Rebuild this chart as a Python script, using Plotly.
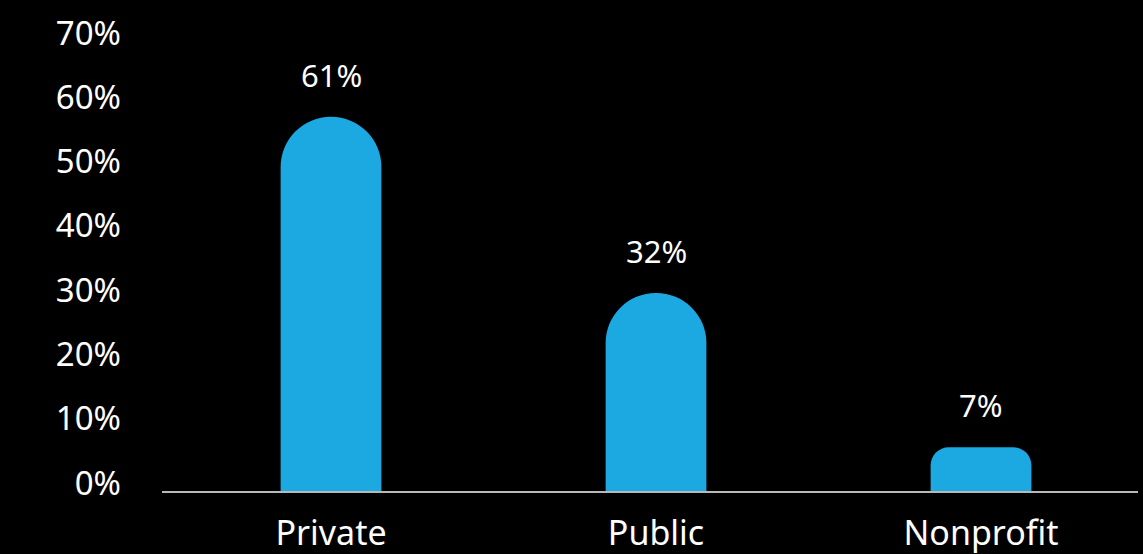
import plotly.graph_objects as go

categories = ["Private", "Public", "Nonprofit"]
bar_heights = [58.2, 30.8, 6.8]          # bar tops
value_labels = ["61%", "32%", "7%"]      # printed data labels
y_tickvals = [0, 10, 20, 30, 40, 50, 60, 70]
y_ticktext = ["0%", "10%", "20%", "30%", "40%", "50%", "60%", "70%"]

BAR_COLOR = "#1ca8e0"
FONT = "Noto Sans"
corner_radii = [50, 50, 18]

fig = go.Figure()
for cat, h, r in zip(categories, bar_heights, corner_radii):
    fig.add_trace(go.Bar(
        x=[cat], y=[h], width=0.31,
        marker=dict(color=BAR_COLOR, cornerradius=r, line=dict(width=0)),
        showlegend=False, hoverinfo="skip",
    ))

for cat, h, lab in zip(categories, bar_heights, value_labels):
    fig.add_annotation(
        x=cat, y=h, text=lab, showarrow=False,
        yanchor="middle", yshift=42,
        font=dict(family=FONT, size=31, color="white"),
    )

fig.update_layout(
    width=1143, height=554,
    margin=dict(l=162, r=5, t=41, b=63),
    paper_bgcolor="black", plot_bgcolor="black",
    barmode="overlay",
    font=dict(family=FONT, size=31, color="white"),
    xaxis=dict(
        type="category", range=[-0.52, 2.483], automargin=False,
        showline=True, linecolor="#b8b8b8", linewidth=2,
        showgrid=False, zeroline=False, ticks="",
        tickfont=dict(family=FONT, size=34, color="white"),
        ticklabelstandoff=11,
    ),
    yaxis=dict(
        range=[0, 70], tickvals=y_tickvals, ticktext=y_ticktext, automargin=False,
        showgrid=False, zeroline=False, showline=False, ticks="",
        tickfont=dict(family=FONT, size=33, color="white"),
        ticklabelstandoff=40, ticklabelshift=-8,
    ),
)

fig.write_html("out.html")
